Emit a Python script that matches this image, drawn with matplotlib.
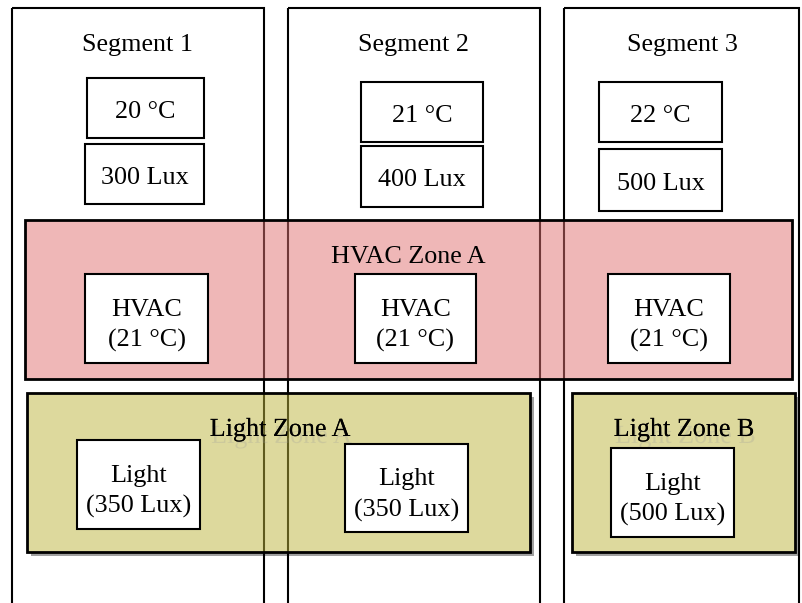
import matplotlib
matplotlib.use('Agg')
import matplotlib.pyplot as plt
from matplotlib.patches import Rectangle
import matplotlib.patheffects as pe

# data
segments = ['Segment 1', 'Segment 2', 'Segment 3']
seg_temps = [20, 21, 22]
seg_lux = [300, 400, 500]
hvac_zone = 'HVAC Zone A'
hvac_setpoints = [21, 21, 21]
light_zones = ['Light Zone A', 'Light Zone B']
light_lux = [350, 350, 500]

# layout (pixels, y from top)
seg_x = [(12, 264), (288, 540), (564, 799)]
seg_title_x = [137, 414, 682]
temp_boxes = [(87, 78, 204, 138), (361, 82, 483, 142), (599, 82, 722, 142)]
lux_boxes = [(85, 144, 204, 204), (361, 146, 483, 207), (599, 149, 722, 211)]
hvac_rect = (25, 220, 792, 379)
hvac_boxes = [(85, 274, 208, 363), (355, 274, 476, 363), (608, 274, 730, 363)]
lz_rects = [(27, 393, 530, 552), (572, 393, 795, 552)]
lz_title_x = [280, 684]
light_boxes = [(77, 440, 200, 529), (345, 444, 468, 532), (611, 448, 734, 537)]

plt.rcParams['font.family'] = ['Liberation Serif', 'DejaVu Serif']
FS = 18.8
DY = 3  # text sits a bit low in the reference

fig = plt.figure(figsize=(8.02, 6.03), dpi=100)
ax = fig.add_axes([0, 0, 1, 1])
ax.set_xlim(0, 802)
ax.set_ylim(603, 0)
ax.axis('off')


def box(b, text, fc='white', lw=1.5, z=3):
    x0, y0, x1, y1 = b
    ax.add_patch(Rectangle((x0, y0), x1 - x0, y1 - y0, facecolor=fc,
                           edgecolor='black', lw=lw, zorder=z))
    if text:
        dy = DY + 1 if '\n' not in text else DY + 4
        ax.text((x0 + x1) / 2, (y0 + y1) / 2 + dy, text, ha='center', va='center',
                fontsize=FS, zorder=z + 1, linespacing=1.5)


# segments
for (x0, x1), name, tx in zip(seg_x, segments, seg_title_x):
    ax.add_patch(Rectangle((x0, 8), x1 - x0, 640, facecolor='none',
                           edgecolor='black', lw=1.5, zorder=1))
    ax.text(tx, 42 + DY, name, ha='center', va='center', fontsize=FS, zorder=2)

for b, t in zip(temp_boxes, seg_temps):
    box(b, f'{t} °C')
for b, l in zip(lux_boxes, seg_lux):
    box(b, f'{l} Lux')

# HVAC zone
x0, y0, x1, y1 = hvac_rect
ax.add_patch(Rectangle((x0, y0), x1 - x0, y1 - y0, facecolor=(0.88, 0.44, 0.44, 0.5),
                       edgecolor='black', lw=2, zorder=2))
ax.text((x0 + x1) / 2, 254 + DY, hvac_zone, ha='center', va='center', fontsize=FS, zorder=3)
for b, s in zip(hvac_boxes, hvac_setpoints):
    box(b, f'HVAC\n({s} °C)')

# light zones: drop shadow + white backing below the segment lines, tinted fill above
for (x0, y0, x1, y1), name, tx in zip(lz_rects, light_zones, lz_title_x):
    ax.add_patch(Rectangle((x0 + 4, y0 + 4), x1 - x0, y1 - y0, facecolor='#a0a0a0',
                           edgecolor='none', zorder=0.5))
    ax.add_patch(Rectangle((x0, y0), x1 - x0, y1 - y0, facecolor='white',
                           edgecolor='none', zorder=0.6))
    ax.add_patch(Rectangle((x0, y0), x1 - x0, y1 - y0, facecolor=(0.74, 0.71, 0.24, 0.5),
                           edgecolor='black', lw=2, zorder=2))
    ax.text(tx, 427 + DY, name, ha='center', va='center', fontsize=FS, zorder=3,
            path_effects=[pe.withSimplePatchShadow(offset=(1, -5), shadow_rgbFace='#999999', alpha=0.25),
                          pe.Normal()])
for b, l in zip(light_boxes, light_lux):
    box(b, f'Light\n({l} Lux)')

fig.savefig('out.png', dpi=100)
